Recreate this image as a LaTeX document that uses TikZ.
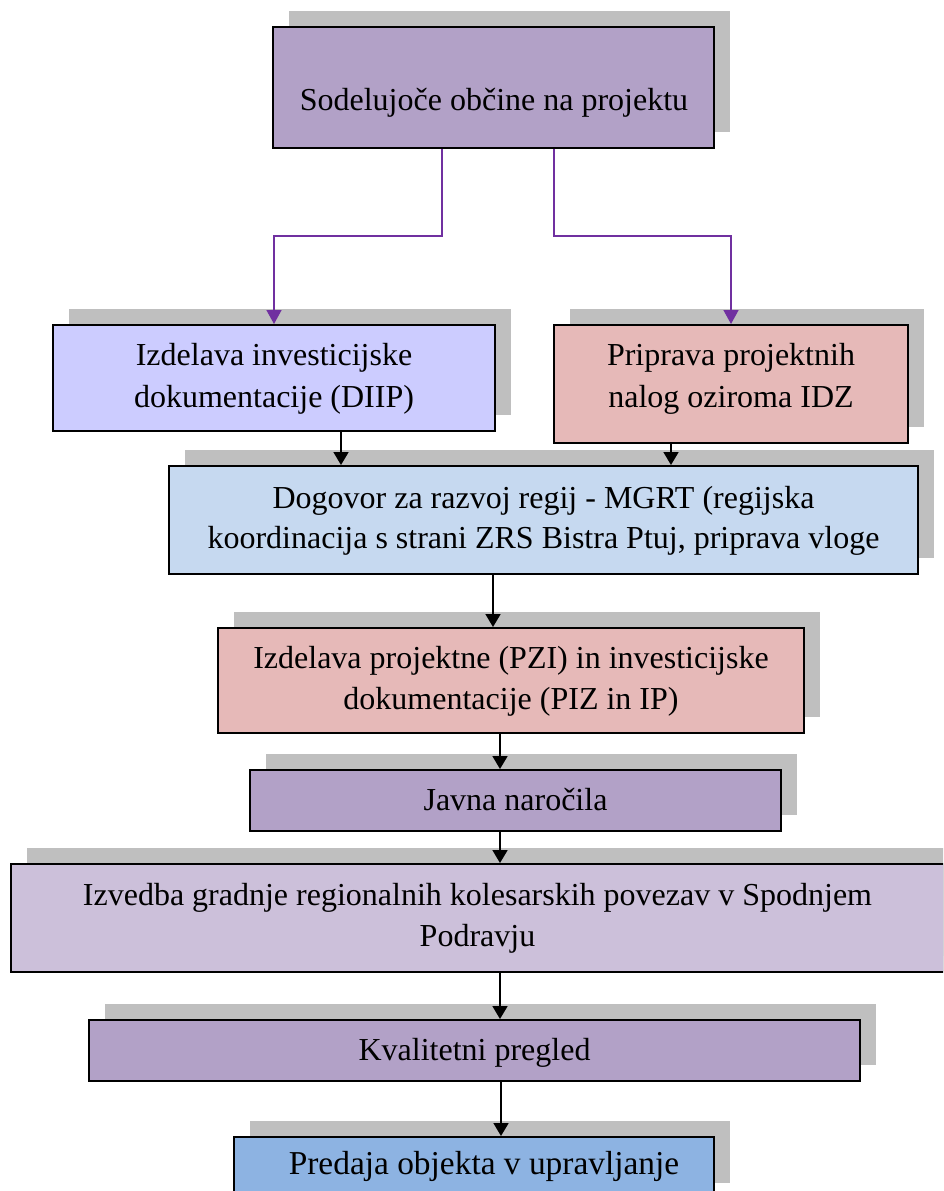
\documentclass[tikz,border=0pt]{standalone}
\usepackage{fontspec}
\setmainfont{Liberation Serif}
\usetikzlibrary{shadows,arrows.meta}
\definecolor{cPurple}{HTML}{B2A1C7}
\definecolor{cPeri}{HTML}{CCCCFF}
\definecolor{cRose}{HTML}{E6B9B8}
\definecolor{cSky}{HTML}{C6D9F0}
\definecolor{cLilac}{HTML}{CCC0DA}
\definecolor{cBlue}{HTML}{8DB3E2}
\definecolor{cShadow}{HTML}{BFBFBF}
\definecolor{cLine}{HTML}{7030A0}
\tikzset{
  box/.style={draw=black, line width=2pt, inner sep=0pt, rectangle,
    general shadow={fill=cShadow, shadow xshift=16pt, shadow yshift=16pt}},
  txt/.style={anchor=base, inner sep=0pt, font=\fontsize{32}{38}\selectfont},
  barr/.style={draw=black, line width=1.8pt, -{Triangle[width=15pt,length=13pt]}},
  parr/.style={draw=cLine, line width=1.5pt, -{Triangle[width=15pt,length=14pt]}}
}
\begin{document}
\begin{tikzpicture}[x=1pt,y=-1pt]
\useasboundingbox (0,0) rectangle (943,1191);
\clip (0,0) rectangle (943,1191);
% boxes
\node[box, fill=cPurple, minimum width=441pt, minimum height=121pt] (n1) at (493.5,87.5) {};
\node[box, fill=cPeri, minimum width=442pt, minimum height=106pt] (n2) at (274,378) {};
\node[box, fill=cRose, minimum width=354pt, minimum height=118pt] (n3) at (731,384) {};
\node[box, fill=cSky, minimum width=749pt, minimum height=108pt] (n4) at (543.5,520) {};
\node[box, fill=cRose, minimum width=586pt, minimum height=105pt] (n5) at (511,680.5) {};
\node[box, fill=cPurple, minimum width=531pt, minimum height=61pt] (n6) at (515.5,800.5) {};
\node[box, fill=cLilac, minimum width=933pt, minimum height=108pt] (n7) at (477.5,918) {};
\node[box, fill=cPurple, minimum width=771pt, minimum height=61pt] (n8) at (474.5,1050.5) {};
\node[box, fill=cBlue, minimum width=480pt, minimum height=62pt] (n9) at (474,1168) {};
% texts
\node[txt] (t1) at (494,110) {Sodelujoče občine na projektu};
\node[txt] (t2a) at (274,365) {Izdelava investicijske};
\node[txt] (t2b) at (274,407) {dokumentacije (DIIP)};
\node[txt] (t3a) at (731,365) {Priprava projektnih};
\node[txt] (t3b) at (731,407) {nalog oziroma IDZ};
\node[txt] (t4a) at (543.5,508) {Dogovor za razvoj regij - MGRT (regijska};
\node[txt] (t4b) at (543.5,548) {koordinacija s strani ZRS Bistra Ptuj, priprava vloge};
\node[txt] (t5a) at (511,668) {Izdelava projektne (PZI) in investicijske};
\node[txt] (t5b) at (511,709) {dokumentacije (PIZ in IP)};
\node[txt] (t6) at (515.5,810) {Javna naročila};
\node[txt] (t7a) at (477.5,905) {Izvedba gradnje regionalnih kolesarskih povezav v Spodnjem};
\node[txt] (t7b) at (477.5,946) {Podravju};
\node[txt] (t8) at (474.5,1060) {Kvalitetni pregled};
\node[txt, font=\fontsize{33.4}{40}\selectfont] (t9) at (484,1174) {Predaja objekta v upravljanje};
% guide coordinates
\coordinate (p1) at (442,0);
\coordinate (p2) at (554,0);
\coordinate (q1) at (274,0);
\coordinate (q2) at (731,0);
\coordinate (ym) at (0,236);
\coordinate (a1) at (341,0);
\coordinate (a2) at (671,0);
\coordinate (a3) at (493,0);
\coordinate (a4) at (500,0);
\coordinate (a5) at (501,0);
% purple connectors
\draw[parr] (p1 |- n1.south) -- (p1 |- ym) -- (q1 |- ym) -- (q1 |- n2.north);
\draw[parr] (p2 |- n1.south) -- (p2 |- ym) -- (q2 |- ym) -- (q2 |- n3.north);
% black connectors
\draw[barr] (a1 |- n2.south) -- (a1 |- n4.north);
\draw[barr] (a2 |- n3.south) -- (a2 |- n4.north);
\draw[barr] (a3 |- n4.south) -- (a3 |- n5.north);
\draw[barr] (a4 |- n5.south) -- (a4 |- n6.north);
\draw[barr] (a4 |- n6.south) -- (a4 |- n7.north);
\draw[barr] (a4 |- n7.south) -- (a4 |- n8.north);
\draw[barr] (a5 |- n8.south) -- (a5 |- n9.north);
\end{tikzpicture}
\end{document}
